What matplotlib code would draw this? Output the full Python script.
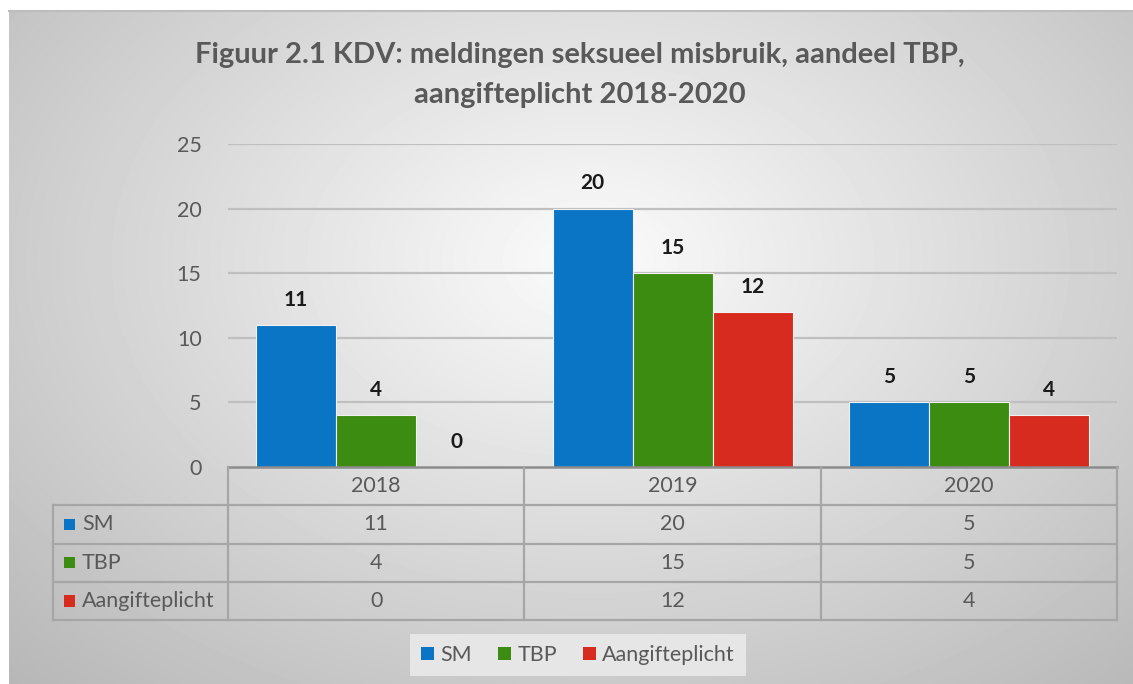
import numpy as np
import matplotlib
matplotlib.use('Agg')
import matplotlib.pyplot as plt
from matplotlib.patches import Rectangle

categories = ['2018', '2019', '2020']
series_names = ['SM', 'TBP', 'Aangifteplicht']
sm = [11, 20, 5]
tbp = [4, 15, 5]
aangifte = [0, 12, 4]
yticks = [0, 5, 10, 15, 20, 25]
title_lines = ['Figuur 2.1 KDV: meldingen seksueel misbruik, aandeel TBP,',
               'aangifteplicht 2018-2020']

series_values = [sm, tbp, aangifte]
colors = ['#0A75C4', '#3B8C10', '#D62B1E']
txt_col = '#595959'

plt.rcParams['font.family'] = ['Lato', 'DejaVu Sans']
FS = 15.5

W, H = 1133, 684
fig = plt.figure(figsize=(W / 100, H / 100), dpi=100)
fig.patch.set_facecolor('white')


def px(x0, y0, x1, y1):
    return [x0 / W, 1 - y1 / H, (x1 - x0) / W, (y1 - y0) / H]


# background gradient panel
bg = fig.add_axes(px(9, 11, W, H))
bg.axis('off')
yy, xx = np.mgrid[11:H, 9:W]
r = np.sqrt(((xx - 590) / 720.0) ** 2 + ((yy - 260) / 500.0) ** 2)
v = np.clip(0.985 - 0.23 * r, 0, 1)
bg.imshow(v, cmap='gray', vmin=0, vmax=1, aspect='auto', extent=(0, 1, 0, 1), origin='upper')
bg.set_xlim(0, 1)
bg.set_ylim(0, 1)
bg.plot([0, 1], [1, 1], color='#bdbdbd', lw=1.5, clip_on=False)

# main plot
ax = fig.add_axes(px(228, 144, 1117, 467))
ax.set_facecolor('none')
ax.set_xlim(-0.5, 2.5)
ax.set_ylim(0, 25)
for s in ax.spines.values():
    s.set_visible(False)
ax.set_yticks(yticks)
ax.set_yticklabels([str(t) for t in yticks])
ax.tick_params(axis='y', length=0, pad=19, labelsize=FS, labelcolor=txt_col)
ax.set_xticks([])
for t in yticks[1:]:
    ax.axhline(t, color='#bfbfbf', lw=1.6, zorder=0)

unit = (1117 - 228) / 3.0
bw = 80 / unit
x = np.arange(len(categories))
for i, (vals, c) in enumerate(zip(series_values, colors)):
    xs = x + (i - 1) * bw
    ax.bar(xs, vals, width=bw, color=c, edgecolor='#f2f2f2', linewidth=0.8, zorder=2)
    for xi, vi in zip(xs, vals):
        ax.annotate(str(vi), (xi, vi), xytext=(0, 11), textcoords='offset points',
                    ha='center', va='bottom', fontsize=15, fontweight='bold', color='#1a1a1a')

# data table
tab = fig.add_axes(px(53, 467, 1117, 620))
tab.axis('off')
left = -0.5 - (228 - 53) / unit
tab.set_xlim(left, 2.5)
tab.set_ylim(4, 0)
lc = '#a6a6a6'
tab.plot([-0.5, 2.5], [0, 0], color='#8c8c8c', lw=1.8, clip_on=False)
for yv in [1, 2, 3, 4]:
    tab.plot([left, 2.5], [yv, yv], color=lc, lw=1.6, clip_on=False)
for xv in [-0.5, 0.5, 1.5, 2.5]:
    tab.plot([xv, xv], [0, 4], color=lc, lw=1.6, clip_on=False)
tab.plot([left, left], [1, 4], color=lc, lw=1.6, clip_on=False)
for j, cat in enumerate(categories):
    tab.text(j, 0.5, cat, ha='center', va='center', fontsize=FS, color=txt_col)
for i, (name, vals, c) in enumerate(zip(series_names, series_values, colors)):
    yc = i + 1.5
    sq_x0 = left + (64 - 53) / unit
    sq_w = 11 / unit
    tab.add_patch(Rectangle((sq_x0, yc - 0.15), sq_w, 0.3, facecolor=c, edgecolor='none', clip_on=False))
    tab.text(left + (82 - 53) / unit, yc, name, ha='left', va='center', fontsize=FS, color=txt_col)
    for j, vv in enumerate(vals):
        tab.text(j, yc, str(vv), ha='center', va='center', fontsize=FS, color=txt_col)

# legend
handles = [Rectangle((0, 0), 1, 1, facecolor=c, edgecolor='none') for c in colors]
leg = fig.legend(handles, series_names, loc='center', bbox_to_anchor=(578 / W, 1 - 655 / H),
                 ncol=3, fontsize=FS, frameon=True, handlelength=0.6, handleheight=0.6,
                 handletextpad=0.3, columnspacing=1.2, borderpad=0.5, borderaxespad=0)
leg.get_frame().set_facecolor('#e6e6e6')
leg.get_frame().set_edgecolor('none')
leg.get_frame().set_alpha(1)
leg.get_frame().set_boxstyle('square', pad=0)
for t in leg.get_texts():
    t.set_color(txt_col)

# title
fig.text(580 / W, 1 - 55 / H, title_lines[0], ha='center', va='center', fontsize=21,
         fontweight='bold', color=txt_col)
fig.text(580 / W, 1 - 95 / H, title_lines[1], ha='center', va='center', fontsize=21,
         fontweight='bold', color=txt_col)

fig.savefig('out.png', dpi=100, facecolor='white')
